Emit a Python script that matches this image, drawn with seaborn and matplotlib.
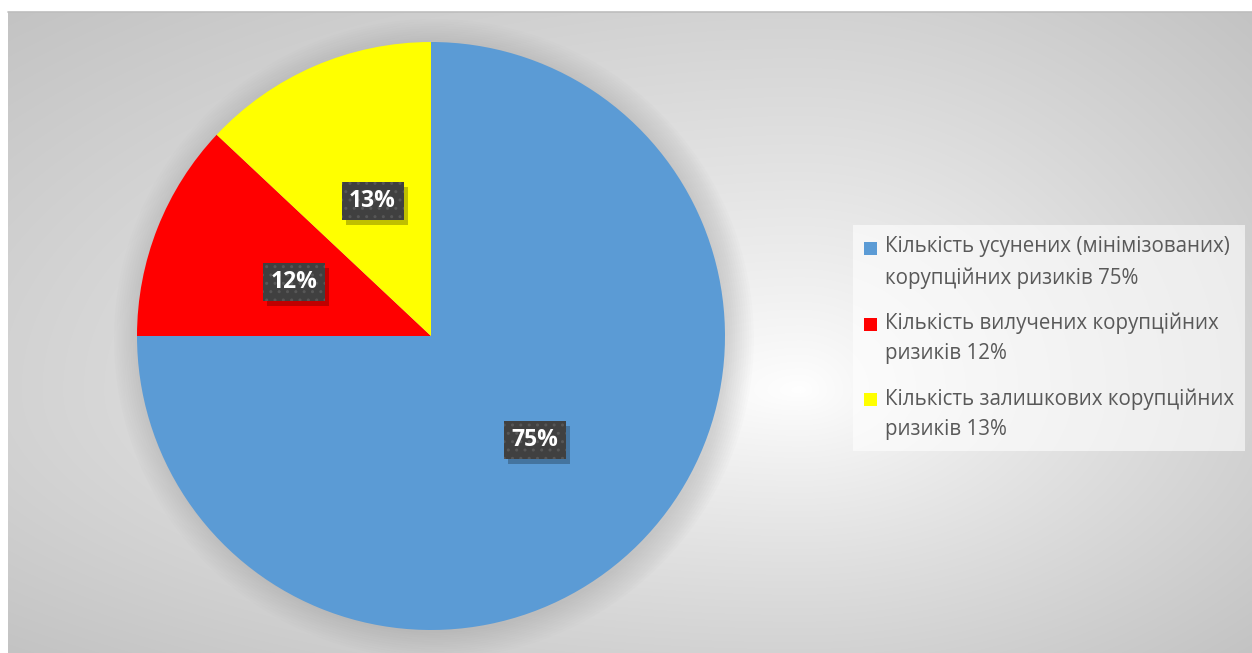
import numpy as np
import matplotlib
matplotlib.use('Agg')
import matplotlib.pyplot as plt
import seaborn as sns
from matplotlib.patches import Circle, Rectangle
from matplotlib.legend_handler import HandlerPatch

sns.set_theme(style='white')
plt.rcParams['font.family'] = ['Open Sans', 'DejaVu Sans']

# data
categories = ['Кількість усунених (мінімізованих)\nкорупційних ризиків 75%',
              'Кількість вилучених корупційних\nризиків 12%',
              'Кількість залишкових корупційних\nризиків 13%']
shares = [75, 12, 13]
colors = ['#5B9BD5', '#FF0000', '#FFFF00']

W, H = 1252, 653
fig = plt.figure(figsize=(W / 100, H / 100), dpi=100)
fig.patch.set_facecolor('white')

# background gradient
bg = fig.add_axes([0, 0, 1, 1])
bg.set_xlim(0, W)
bg.set_ylim(H, 0)
bg.axis('off')
x0, y0 = 8, 12
xs = np.arange(x0, W)
ys = np.arange(y0, H)
X, Y = np.meshgrid(xs, ys)
cx, cy = 800, 390
u = np.where(X < cx, (X - cx) / (cx - x0), (X - cx) / (W - cx))
v = np.where(Y < cy, (Y - cy) / (cy - y0), (Y - cy) / (H - cy))
r = np.clip(np.sqrt(u ** 2 + v ** 2) / np.sqrt(2), 0, 1)
g = 1.0 - 0.235 * r ** 0.85
img = np.dstack([g, g, g])
bg.imshow(img, extent=(x0, W, H, y0), aspect='auto', interpolation='bilinear')
bg.plot([x0, W], [y0, y0], color='#bdbdbd', lw=1.2)

# pie
pcx, pcy, pr = 431, 336, 294
ax = fig.add_axes([(pcx - pr) / W, (H - pcy - pr) / H, 2 * pr / W, 2 * pr / H])
for k in range(12):
    ax.add_patch(Circle((0.01, -0.01), 1.0 + k * 0.008, facecolor='#808080',
                        alpha=0.025, edgecolor='none', zorder=0, clip_on=False))

wedges, texts, autotexts = ax.pie(shares, colors=colors, startangle=90, counterclock=False,
                                  autopct='%d%%', pctdistance=0.5, radius=1,
                                  wedgeprops=dict(edgecolor='none'),
                                  textprops=dict(color='white', fontsize=16.5, fontweight='bold'))
ax.set_xlim(-1, 1)
ax.set_ylim(-1, 1)
ax.set_aspect('equal')
ax.axis('off')

# label boxes (size in px converted to data units)
bw, bh = 62 / pr, 38 / pr
for t in autotexts:
    t.set_zorder(6)
    px, py = t.get_position()
    ax.add_patch(Rectangle((px - bw / 2 + 0.014, py - bh / 2 - 0.016), bw, bh,
                           facecolor='black', alpha=0.25, edgecolor='none', zorder=4))
    ax.add_patch(Rectangle((px - bw / 2, py - bh / 2), bw, bh, facecolor='#404040',
                           edgecolor='#575757', linewidth=0, hatch='..', zorder=5))


# legend marker next to the first line of a wrapped label
def top_square(legend, orig_handle, xdescent, ydescent, width, height, fontsize):
    return Rectangle((-xdescent, -ydescent + 10.8), width, height)


leg = fig.legend(wedges, categories, loc='upper left',
                 bbox_to_anchor=(853 / W, 1 - 225 / H), frameon=True,
                 fontsize=14.8, handlelength=0.6, handleheight=0.6,
                 handletextpad=0.4, labelspacing=1.15, borderpad=0.55,
                 borderaxespad=0, labelcolor='#595959',
                 handler_map={w: HandlerPatch(patch_func=top_square) for w in wedges})
for t in leg.get_texts():
    t.set_linespacing(1.6)
frame = leg.get_frame()
frame.set_facecolor('white')
frame.set_alpha(0.6)
frame.set_edgecolor('none')
frame.set_boxstyle('square', pad=0)

fig.savefig('out.png', dpi=100)
